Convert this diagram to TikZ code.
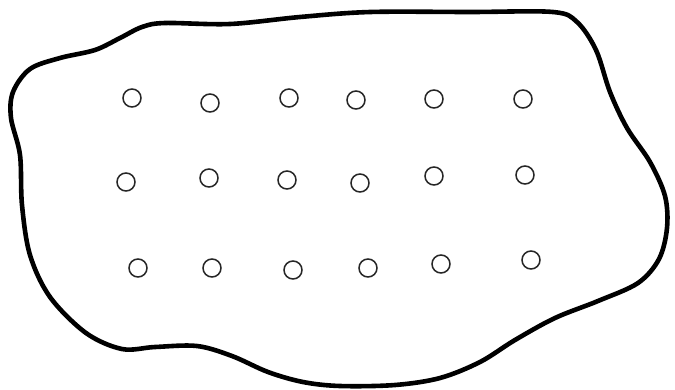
\documentclass[tikz,border=0pt]{standalone}
\begin{document}
\begin{tikzpicture}[x=1pt,y=-1pt,
  hole/.style={circle,draw=black!85,line width=1.5pt,minimum size=18pt,inner sep=0pt},
  outline/.style={line width=4.6pt,line join=round}]
\useasboundingbox (0,0) rectangle (675,389);
\draw[outline] plot[smooth cycle,tension=0.55] coordinates {
 (13,92) (30,69) (60,58) (95,50) (120,38) (142,27) (165,23) (230,24)
 (300,17) (370,12) (470,12) (553,12) (577,22) (596,50) (610,92) (627,128)
 (650,162) (665,196) (667,228) (659,259) (638,283) (598,301) (555,318)
 (515,340) (480,362) (440,378) (395,385) (340,386) (303,382) (268,372)
 (232,356) (197,346) (155,347) (122,349) (86,333) (50,297) (30,255)
 (22,205) (20,155) (11,118)};
\node[hole] (a1) at (132,98) {};
\node[hole] (a2) at (210,103) {};
\node[hole] (a3) at (289,98) {};
\node[hole] (a4) at (356,100) {};
\node[hole] (a5) at (434,99) {};
\node[hole] (a6) at (523,99) {};
\node[hole] (b1) at (126,182) {};
\node[hole] (b2) at (209,178) {};
\node[hole] (b3) at (287,180) {};
\node[hole] (b4) at (360,183) {};
\node[hole] (b5) at (434,176) {};
\node[hole] (b6) at (525,175) {};
\node[hole] (c1) at (138,268) {};
\node[hole] (c2) at (212,268) {};
\node[hole] (c3) at (293,270) {};
\node[hole] (c4) at (368,268) {};
\node[hole] (c5) at (441,264) {};
\node[hole] (c6) at (531,260) {};
\end{tikzpicture}
\end{document}
